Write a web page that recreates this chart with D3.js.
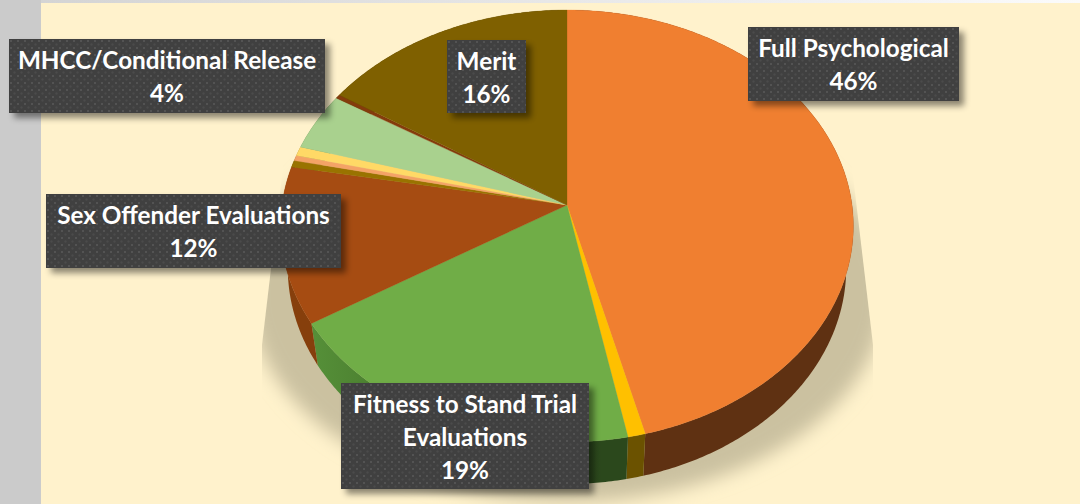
<!DOCTYPE html>
<html>
<head>
<meta charset="utf-8">
<script src="https://cdn.jsdelivr.net/npm/d3@7"></script>
<style>
  html, body { margin: 0; padding: 0; background: #fff; overflow: hidden; }
  svg { display: block; }
  text { font-family: Lato, "Open Sans", sans-serif; font-weight: 700; fill: #fff; text-anchor: middle; }
</style>
</head>
<body>
<svg id="chart" width="1080" height="504"></svg>
<script>
// Data ---------------------------------------------------------------
const categories = ["Full Psychological", "Minor A", "Fitness to Stand Trial Evaluations",
  "Sex Offender Evaluations", "Minor B", "Minor C", "Minor D",
  "MHCC/Conditional Release", "Minor E", "Merit"];
const shares = [46, 0.9, 19.3, 11.7, 0.5, 0.4, 0.7, 4.3, 0.3, 15.9];
const labelTexts = [
  ["Full Psychological", "46%"],
  ["Merit", "16%"],
  ["MHCC/Conditional Release", "4%"],
  ["Sex Offender Evaluations", "12%"],
  ["Fitness to Stand Trial", "Evaluations", "19%"]
];

// Styles -------------------------------------------------------------
const topColors  = ["#f07f30", "#ffc000", "#70ad47", "#a64c12", "#997300", "#f4a366", "#ffd966", "#a9d18e", "#843c0c", "#7f6000"];
const sideColors = ["#5f3112", "#6b5200", "url(#greenSide)", "#863f0c", "#5c4500", "#8a5a30", "#8a7530", "#5e7a4a", "#4f2407", "#4c3a00"];
const labelBoxes = [
  { x: 748, y: 27,  w: 211, h: 74 },
  { x: 447, y: 40,  w: 79,  h: 73 },
  { x: 9,   y: 39,  w: 316, h: 74 },
  { x: 46,  y: 194, w: 295, h: 74 },
  { x: 341, y: 383, w: 248, h: 106 }
];
const lineStep = 33, fontSize = 24.3;

// Pie projection: hub sits above the ellipse centre (perspective) -----
const hub = { x: 567, y: 205 }, radius = 285;
const persp = -0.0972, yScale = 194, depth = 42, bottomScale = 0.975;

function rimPoint(angle, isBottom) {
  const u = Math.sin(angle), v = -Math.cos(angle), w = 1 + persp * v;
  const px = radius * u / w, py = (hub.y + yScale * v) / w;
  return isBottom ? [hub.x + px * bottomScale, py + depth] : [hub.x + px, py];
}
function arcPoints(a0, a1, isBottom) {
  const n = Math.max(2, Math.ceil((a1 - a0) / 0.01));
  return d3.range(n + 1).map(i => rimPoint(a0 + (a1 - a0) * i / n, isBottom));
}

const line = d3.line();
const svg = d3.select("#chart");
const defs = svg.append("defs");

// Defs ---------------------------------------------------------------
const topStrip = defs.append("linearGradient").attr("id", "topStrip");
topStrip.append("stop").attr("offset", 0).attr("stop-color", "#d4d4d4");
topStrip.append("stop").attr("offset", 1).attr("stop-color", "#fbfbfb");

const greenSide = defs.append("linearGradient").attr("id", "greenSide")
  .attr("gradientUnits", "userSpaceOnUse").attr("x1", 315).attr("x2", 600).attr("y1", 0).attr("y2", 0);
greenSide.append("stop").attr("offset", 0).attr("stop-color", "#558f38");
greenSide.append("stop").attr("offset", 0.25).attr("stop-color", "#4a7d2f");
greenSide.append("stop").attr("offset", 1).attr("stop-color", "#2b481c");

defs.append("filter").attr("id", "pieBlur")
  .attr("x", "-10%").attr("y", "-10%").attr("width", "120%").attr("height", "120%")
  .append("feGaussianBlur").attr("stdDeviation", 9);

const boxShadow = defs.append("filter").attr("id", "boxShadow")
  .attr("x", "-10%").attr("y", "-20%").attr("width", "125%").attr("height", "145%");
boxShadow.append("feDropShadow").attr("dx", 5).attr("dy", 5).attr("stdDeviation", 3)
  .attr("flood-color", "#000").attr("flood-opacity", 0.45);

const dots = defs.append("pattern").attr("id", "dots").attr("patternUnits", "userSpaceOnUse")
  .attr("width", 7).attr("height", 7);
dots.append("rect").attr("width", 7).attr("height", 7).attr("fill", "#404040");
dots.append("rect").attr("x", 1).attr("y", 1).attr("width", 2).attr("height", 2).attr("fill", "#535353");
dots.append("rect").attr("x", 4.5).attr("y", 4.5).attr("width", 2).attr("height", 2).attr("fill", "#4c4c4c");

defs.append("clipPath").attr("id", "shadowClip").append("polygon")
  .attr("points", "285,150 262,345 262,504 873,504 873,345 850,150");

// Background ---------------------------------------------------------
svg.append("rect").attr("width", 1080).attr("height", 504).attr("fill", "#cbcbcb");
svg.append("rect").attr("x", 41).attr("width", 1039).attr("height", 3).attr("fill", "url(#topStrip)");
svg.append("rect").attr("x", 41).attr("y", 3).attr("width", 1039).attr("height", 501).attr("fill", "#fff2cc");

// Cast shadow --------------------------------------------------------
svg.append("g").attr("clip-path", "url(#shadowClip)")
  .append("ellipse")
  .attr("cx", 567).attr("cy", 294).attr("rx", 318).attr("ry", 208)
  .attr("fill", "#cbc1a0").attr("filter", "url(#pieBlur)");

// Slices -------------------------------------------------------------
const slices = d3.pie().sort(null).value(d => d)(shares);

svg.append("g").selectAll("path")
  .data(slices)
  .join("path")
  .attr("fill", (d, i) => sideColors[i])
  .attr("d", d => {
    const upper = arcPoints(d.startAngle, d.endAngle, false);
    const lower = arcPoints(d.startAngle, d.endAngle, true).reverse();
    return line(upper.concat(lower)) + "Z";
  });

svg.append("g").selectAll("path")
  .data(slices)
  .join("path")
  .attr("fill", (d, i) => topColors[i])
  .attr("stroke", (d, i) => topColors[i])
  .attr("stroke-width", 0.3)
  .attr("d", d => line([[hub.x, hub.y]].concat(arcPoints(d.startAngle, d.endAngle, false))) + "Z");

// Labels -------------------------------------------------------------
const labels = svg.append("g").selectAll("g")
  .data(labelTexts)
  .join("g")
  .attr("transform", (d, i) => `translate(${labelBoxes[i].x},${labelBoxes[i].y})`);

labels.append("rect")
  .attr("width", (d, i) => labelBoxes[i].w)
  .attr("height", (d, i) => labelBoxes[i].h)
  .attr("fill", "url(#dots)")
  .attr("filter", "url(#boxShadow)");

labels.each(function(d, i) {
  const box = labelBoxes[i];
  d3.select(this).selectAll("text")
    .data(d)
    .join("text")
    .attr("x", box.w / 2)
    .attr("y", (t, j) => box.h / 2 + (j - (d.length - 1) / 2) * lineStep + fontSize * 0.35 + 1)
    .style("font-size", fontSize + "px")
    .text(t => t);
});
</script>
</body>
</html>
